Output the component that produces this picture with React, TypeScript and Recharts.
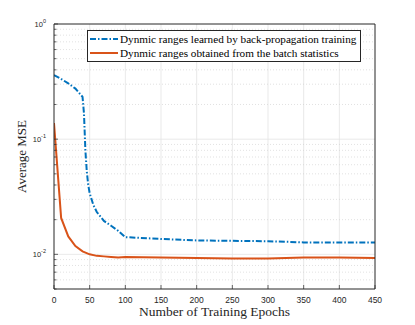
import React from 'react';
import { LineChart, Line, XAxis, YAxis, ReferenceLine, Legend, Label } from 'recharts';

// back-propagation learned ranges
const epochsLearned = [0, 10, 20, 30, 40, 42, 44, 46, 48, 50, 55, 60, 70, 80, 90, 100, 150, 200, 250, 300, 350, 400, 450];
const mseLearned = [0.36, 0.333, 0.305, 0.275, 0.233, 0.168, 0.08, 0.052, 0.04, 0.034, 0.027, 0.0233, 0.0195, 0.0177, 0.016, 0.0141, 0.0136, 0.0132, 0.0131, 0.013, 0.0127, 0.0127, 0.0127];

// batch statistics ranges
const epochsBatch = [0, 10, 20, 30, 40, 50, 60, 70, 80, 90, 100, 150, 200, 250, 300, 350, 400, 450];
const mseBatch = [0.138, 0.0207, 0.0143, 0.0118, 0.0106, 0.01, 0.0097, 0.0096, 0.0095, 0.0094, 0.0095, 0.0094, 0.0093, 0.0092, 0.0092, 0.0094, 0.0094, 0.0093];

const xTicks = [0, 50, 100, 150, 200, 250, 300, 350, 400, 450];
const yMajor = [0.01, 0.1, 1];
const yMinor = [0.005, 0.006, 0.007, 0.008, 0.009, 0.02, 0.03, 0.04, 0.05, 0.06, 0.07, 0.08, 0.09, 0.2, 0.3, 0.4, 0.5, 0.6, 0.7, 0.8, 0.9];

const seriesNames = [
  'Dynmic ranges learned by back-propagation training',
  'Dynmic ranges obtained from the batch statistics',
];

const learned = epochsLearned.map((epoch, i) => ({ epoch, mse: mseLearned[i] }));
const batch = epochsBatch.map((epoch, i) => ({ epoch, mse: mseBatch[i] }));

const AXIS = '#262626';
const BLUE = '#0072BD';
const RED = '#D95319';
const SERIF = '"Liberation Serif", "DejaVu Serif", serif';
const SANS = '"Liberation Sans", Arial, sans-serif';
const DASHDOT = '6 2 1.5 2';

const YTick = (props: any) => {
  const { x, y, payload } = props;
  const v = payload.value;
  const major = yMajor.some((m) => Math.abs(m - v) < 1e-9);
  const exp = Math.round(Math.log10(v));
  return (
    <g>
      <line x1={x + 7} x2={x + 7 + (major ? 4 : 2.5)} y1={y} y2={y} stroke={AXIS} strokeWidth={0.7} />
      {major && (
        <text x={x - 1} y={y} textAnchor="end" fontFamily={SANS} fontSize={7.5} fill={AXIS} dy={3}>
          10<tspan dy={-4} fontSize={5.5}>{exp}</tspan>
        </text>
      )}
    </g>
  );
};

const XTick = (props: any) => {
  const { x, y, payload } = props;
  return (
    <g>
      <line x1={x} x2={x} y1={y - 7} y2={y - 11} stroke={AXIS} strokeWidth={0.7} />
      <text x={x} y={y} textAnchor="middle" fontFamily={SANS} fontSize={8.5} fill={AXIS} dy={7}>
        {payload.value}
      </text>
    </g>
  );
};

const LegendBox = () => (
  <div
    style={{
      border: `1px solid ${AXIS}`,
      background: '#fff',
      padding: '1px 4px 1px 1px',
      fontFamily: SERIF,
      fontSize: 11.2,
      lineHeight: '14px',
      color: '#000',
      whiteSpace: 'nowrap',
    }}
  >
    {seriesNames.map((name, i) => (
      <div key={name} style={{ display: 'flex', alignItems: 'center' }}>
        <svg width={30} height={14} style={{ marginRight: 1 }}>
          <line
            x1={1}
            x2={29}
            y1={7}
            y2={7}
            stroke={i === 0 ? BLUE : RED}
            strokeWidth={2}
            strokeDasharray={i === 0 ? DASHDOT : undefined}
          />
        </svg>
        <span>{name}</span>
      </div>
    ))}
  </div>
);

export default function App() {
  return (
    <div style={{ position: 'absolute', left: 0, top: 0, background: '#fff' }}>
      <LineChart width={415} height={325} margin={{ top: 24, right: 40, bottom: 0, left: 0 }}>
        <XAxis
          dataKey="epoch"
          type="number"
          domain={[0, 450]}
          ticks={xTicks}
          tickSize={0}
          tickMargin={7}
          tickLine={false}
          height={36}
          stroke={AXIS}
          tick={<XTick />}
          allowDataOverflow
        >
          <Label
            value="Number of Training Epochs"
            position="insideBottom"
            offset={9}
            style={{ fontFamily: SERIF, fontSize: 13.5, fill: AXIS }}
          />
        </XAxis>
        <XAxis
          xAxisId="top"
          orientation="top"
          type="number"
          domain={[0, 450]}
          ticks={xTicks}
          mirror
          tick={false}
          tickSize={3}
          stroke={AXIS}
          allowDataOverflow
        />
        <YAxis
          dataKey="mse"
          scale="log"
          type="number"
          domain={[0.005, 1]}
          ticks={[...yMinor, ...yMajor]}
          tickSize={0}
          tickMargin={7}
          tickLine={false}
          width={54}
          stroke={AXIS}
          tick={<YTick />}
          interval={0}
          allowDataOverflow
        >
          <Label
            value="Average MSE"
            angle={-90}
            position="insideLeft"
            offset={21}
            style={{ fontFamily: SERIF, fontSize: 13, fill: AXIS, textAnchor: 'middle' }}
          />
        </YAxis>
        <YAxis
          yAxisId="right"
          orientation="right"
          scale="log"
          type="number"
          domain={[0.005, 1]}
          ticks={[...yMinor, ...yMajor]}
          interval={0}
          mirror
          tick={false}
          tickSize={3}
          stroke={AXIS}
          allowDataOverflow
        />
        {xTicks.slice(1, -1).map((t) => (
          <ReferenceLine key={'gx' + t} x={t} stroke="#e3e3e3" strokeWidth={0.8} />
        ))}
        {yMinor.slice(1).map((t) => (
          <ReferenceLine key={'gm' + t} y={t} stroke="#cfcfcf" strokeWidth={0.6} strokeDasharray="1 2" />
        ))}
        {yMajor.slice(0, -1).map((t) => (
          <ReferenceLine key={'gy' + t} y={t} stroke="#e3e3e3" strokeWidth={0.8} />
        ))}
        <Legend
          layout="vertical"
          align="center"
          verticalAlign="middle"
          wrapperStyle={{ top: 30, left: 87, width: 'auto' }}
          content={<LegendBox />}
        />
        <Line
          data={learned}
          dataKey="mse"
          type="linear"
          stroke={BLUE}
          strokeWidth={2}
          strokeDasharray={DASHDOT}
          dot={false}
          isAnimationActive={false}
        />
        <Line
          data={batch}
          dataKey="mse"
          type="linear"
          stroke={RED}
          strokeWidth={2}
          dot={false}
          isAnimationActive={false}
        />
      </LineChart>
    </div>
  );
}
